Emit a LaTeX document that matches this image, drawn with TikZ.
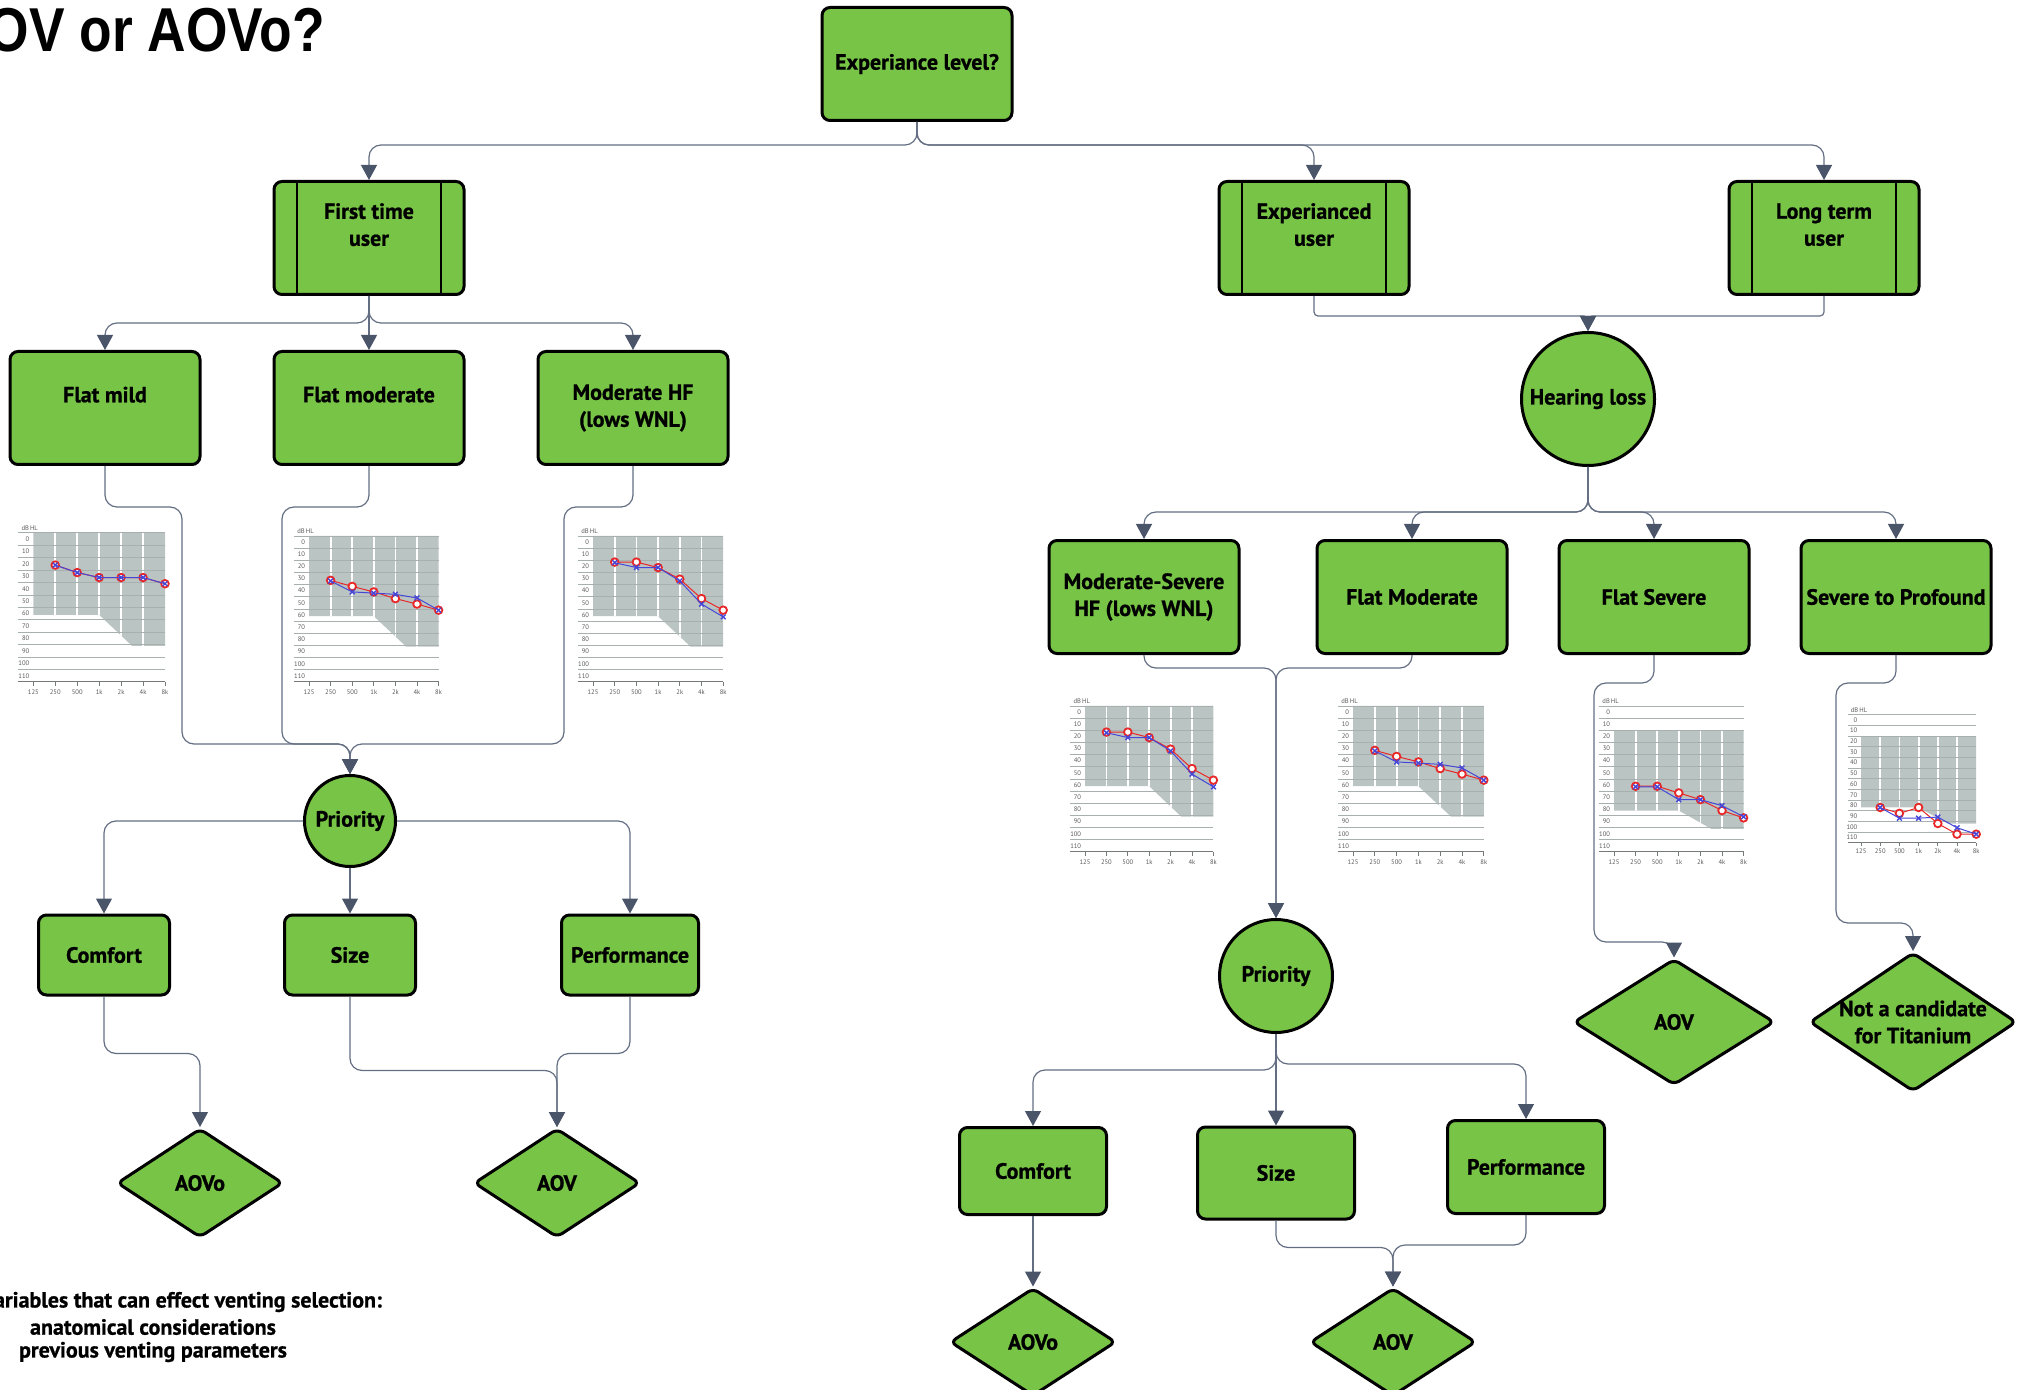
\documentclass[tikz,border=0pt]{standalone}
\usepackage{fontspec}
\setmainfont{PT Sans}[BoldFeatures={FakeBold=0.8}]
\newfontfamily\titlefont{Liberation Sans}[FakeStretch=0.86]
\usetikzlibrary{
    shapes.geometric,
    arrows.meta,
    positioning,
    calc
}
\definecolor{boxgreen}{RGB}{120,196,70}
\definecolor{linkgray}{RGB}{100,110,130}
\definecolor{tipgray}{RGB}{75,85,105}
\definecolor{audshade}{RGB}{186,197,195}
\definecolor{audgrid}{RGB}{168,175,175}
\definecolor{earred}{RGB}{232,40,40}
\definecolor{earblue}{RGB}{70,70,215}
% origin (125 Hz, 0 dB), pt per octave, pt per dB, shading top / low left / low right, right ear, left ear
\newcommand{\audiogram}[9]{%
    \begin{scope}[shift={(#1,#2)}, x=#3pt, y=-#4pt]
        \fill[audshade] (0,#5) -- (6,#5) -- (6,#7) -- (4.5,#7) -- (3,#6) -- (0,#6) -- cycle;
        \begin{scope}
            \clip (0,#5) -- (6,#5) -- (6,#7) -- (4.5,#7) -- (3,#6) -- (0,#6) -- cycle;
            \foreach \fq in {1,...,5} \draw[white, line width=0.9pt] (\fq,#5) -- (\fq,#7);
        \end{scope}
        \foreach \lv in {-5,5,...,105} \draw[audgrid, line width=0.4pt] (-0.7,\lv) -- (6,\lv);
        \draw[audgrid!70!black, line width=0.5pt] (-0.7,115) -- (6,115);
        \foreach \lv in {0,10,...,110} \node[audlabel, anchor=east] at (-0.12,\lv) {\lv};
        \foreach \fq/\fl in {0/125,1/250,2/500,3/1k,4/2k,5/4k,6/8k} {
            \draw[audgrid!70!black, line width=0.4pt] (\fq,115) -- (\fq,118);
            \node[audlabel] at (\fq,123) {\fl};
        }
        \node[audlabel, anchor=south west] at (-0.6,-6) {dB\,HL};
        \draw[earred, line width=0.5pt] plot[mark=*, mark size=1.9pt, mark options={fill=white, draw=earred, line width=0.9pt}] coordinates {#8};
        \draw[earblue, line width=0.5pt] plot[mark=x, mark size=1.7pt, mark options={line width=0.7pt}] coordinates {#9};
    \end{scope}}

\begin{document}
\begin{tikzpicture}[
        x=0.5pt, y=-0.5pt,
        box/.style={draw, line width=1.5pt, rounded corners=4pt, fill=boxgreen, minimum width=95pt, minimum height=56.5pt, inner xsep=1pt, inner ysep=2pt, align=center, font=\bfseries\fontsize{11}{13.5}\selectfont},
        procbox/.style={box, path picture={
            \draw[line width=1.2pt] ([xshift=11.5pt]path picture bounding box.north west) -- ([xshift=11.5pt]path picture bounding box.south west);
            \draw[line width=1.2pt] ([xshift=-11.5pt]path picture bounding box.north east) -- ([xshift=-11.5pt]path picture bounding box.south east);}},
        roundbox/.style={circle, draw, line width=1.5pt, fill=boxgreen, inner sep=1pt, align=center, font=\bfseries\fontsize{11}{13.5}\selectfont},
        decision/.style={diamond, draw, line width=1.5pt, rounded corners=3pt, fill=boxgreen, inner sep=-1.5pt, aspect=1.5, align=center, font=\bfseries\fontsize{11}{13.5}\selectfont},
        conn/.style={-{Triangle[width=8pt,length=7.5pt,color=tipgray]}, draw=linkgray, line width=0.6pt, rounded corners=6pt},
        audlabel/.style={font=\fontsize{3.3}{4}\selectfont, text=black!65, inner sep=0.5pt},
        notetext/.style={inner sep=0pt, font=\bfseries\fontsize{11}{13}\selectfont}
    ]
        \useasboundingbox (0,0) rectangle (2019,1390);

        % Title
        \node[anchor=base east, inner sep=0pt, font=\titlefont\bfseries\fontsize{31}{35}\selectfont] (title) at (325,52) {AOV or AOVo?};

        % Experience level
        \node[box] (exp) at (917,64) {Experiance level?};
        \node[procbox] (first) at (369,238) {First time\\user\\\mbox{}};
        \node[procbox] (expd) at (1314,238) {Experianced\\user\\\mbox{}};
        \node[procbox] (longt) at (1824,238) {Long term\\user\\\mbox{}};

        % First time user: hearing loss
        \node[box] (flatmild) at (105,408) {Flat mild\\\mbox{}};
        \node[box] (flatmod) at (369,408) {Flat moderate\\\mbox{}};
        \node[box] (modhf) at (633,408) {Moderate HF\\(lows WNL)};

        \audiogram{33.3}{539}{10.975}{0.6215}{-5}{61}{86}{(1,21) (2,27) (3,31) (4,31) (5,31) (6,36)}{(1,21) (2,27) (3,31) (4,31) (5,31) (6,36)}
        \audiogram{309}{542}{10.8}{0.6085}{-5}{61}{86}{(1,31.5) (2,36.5) (3,41) (4,46.5) (5,51) (6,56)}{(1,32) (2,41) (3,42) (4,43) (5,46) (6,56)}
        \audiogram{593}{542}{10.85}{0.6085}{-5}{61}{86}{(1,16.5) (2,16.5) (3,21) (4,30.5) (5,46.5) (6,56)}{(1,17) (2,21) (3,21) (4,32) (5,51) (6,61.5)}

        % First time user: priority
        \node[roundbox, minimum size=45.5pt] (prioL) at (350,821) {Priority};
        \node[box, minimum width=65.5pt, minimum height=40pt] (comfL) at (104,955) {Comfort};
        \node[box, minimum width=65.5pt, minimum height=40pt] (sizeL) at (350,955) {Size};
        \node[box, minimum width=68.5pt, minimum height=40pt] (perfL) at (630,955) {Performance};
        \node[decision, minimum width=83pt, minimum height=54.5pt] (aovoL) at (200,1183) {AOVo};
        \node[decision, minimum width=83pt, minimum height=54.5pt] (aovL) at (557,1183) {AOV};

        % Notes
        \node[notetext] (noteA) at (182,1302) {Variables that can effect venting selection:};
        \node[notetext] (noteB) at (153,1327) {anatomical considerations};
        \node[notetext] (noteC) at (153,1352) {previous venting parameters};

        % Experienced / long term user
        \node[roundbox, minimum size=66.5pt] (hear) at (1588,399) {Hearing loss};
        \node[box] (msev) at (1144,597) {Moderate-Severe\\HF (lows WNL)};
        \node[box] (fmod2) at (1412,597) {Flat Moderate};
        \node[box] (fsev) at (1654,597) {Flat Severe};
        \node[box] (sevp) at (1896,597) {Severe to Profound};

        \audiogram{1085}{712}{10.7}{0.6085}{-5}{61}{86}{(1,16.5) (2,16.5) (3,21) (4,30.5) (5,46.5) (6,56)}{(1,17) (2,21) (3,21) (4,32) (5,51) (6,61.5)}
        \audiogram{1353}{712}{10.9}{0.6085}{-5}{61}{86}{(1,31.5) (2,36.5) (3,41) (4,46.5) (5,51) (6,56)}{(1,32) (2,41) (3,42) (4,43) (5,46) (6,56)}
        \audiogram{1614}{712}{10.8}{0.6085}{15}{81}{96}{(1,61) (2,61) (3,66.5) (4,72) (5,81) (6,87)}{(1,61.5) (2,61.5) (3,72) (4,72) (5,77) (6,86)}
        \audiogram{1861}{720}{9.6}{0.5335}{15}{82}{97}{(1,82) (2,87.5) (3,82) (4,97) (5,107) (6,107)}{(1,82) (2,92) (3,92) (4,91) (5,101) (6,107)}

        \node[decision, minimum width=100.5pt, minimum height=63pt] (aovS) at (1674,1022) {AOV};
        \node[decision, minimum width=103.5pt, minimum height=69.5pt] (notcand) at (1913,1022) {Not a candidate\\for Titanium};

        % Experienced user: priority
        \node[roundbox, minimum size=56.5pt] (prioR) at (1276,976) {Priority};
        \node[box, minimum width=73.5pt, minimum height=43.5pt] (comfR) at (1033,1171) {Comfort};
        \node[box, minimum width=78.5pt, minimum height=46pt] (sizeR) at (1276,1173) {Size};
        \node[box, minimum width=78.5pt, minimum height=46.5pt] (perfR) at (1526,1167) {Performance};
        \node[decision, minimum width=83pt, minimum height=54pt] (aovoR) at (1033,1342) {AOVo};
        \node[decision, minimum width=83pt, minimum height=54pt] (aovR) at (1393,1342) {AOV};

        % Arrows
        \draw[conn] (exp.south) -- ++(0,23) -| (first.north);
        \draw[conn] (exp.south) -- ++(0,23) -| (expd.north);
        \draw[conn] (exp.south) -- ++(0,23) -| (longt.north);

        \draw[conn] (first.south) -- ++(0,27) -| (flatmild.north);
        \draw[conn] (first.south) -- (flatmod.north);
        \draw[conn] (first.south) -- ++(0,27) -| (modhf.north);

        \coordinate (mergeL) at (350,744);
        \draw[conn] (flatmild.south) -- ++(0,41) -- ++(77,0) |- (mergeL) -- (prioL.north);
        \draw[conn] (flatmod.south) -- ++(0,41) -- ++(-87,0) |- (mergeL) -- (prioL.north);
        \draw[conn] (modhf.south) -- ++(0,41) -- ++(-69,0) |- (mergeL) -- (prioL.north);

        \draw[conn] (prioL.west) -| (comfL.north);
        \draw[conn] (prioL.south) -- (sizeL.north);
        \draw[conn] (prioL.east) -| (perfL.north);
        \draw[conn] (comfL.south) -- ++(0,57) -| (aovoL.north);
        \draw[conn] (sizeL.south) -- ++(0,74) -| (aovL.north);
        \draw[conn] (perfL.south) -- ++(0,57) -| (aovL.north);

        \draw[conn, rounded corners=2pt] (expd.south) -- ++(0,20) -| (hear.north);
        \draw[conn, rounded corners=2pt] (longt.south) -- ++(0,20) -| (hear.north);

        \draw[conn] (hear.south) -- ++(0,45) -| (msev.north);
        \draw[conn] (hear.south) -- ++(0,45) -| (fmod2.north);
        \draw[conn] (hear.south) -- ++(0,45) -| (fsev.north);
        \draw[conn] (hear.south) -- ++(0,45) -| (sevp.north);

        \draw[conn] (msev.south) -- ++(0,13) -| (prioR.north);
        \draw[conn] (fmod2.south) -- ++(0,13) -| (prioR.north);
        \draw[conn] (fsev.south) -- ++(0,28) -- ++(-60,0) -- ++(0,259) -| (aovS.north);
        \draw[conn] (sevp.south) -- ++(0,28) -- ++(-60,0) -- ++(0,240) -| (notcand.north);

        \draw[conn] (prioR.south) -- ++(0,36) -| (comfR.north);
        \draw[conn] (prioR.south) -- (sizeR.north);
        \draw[conn] (prioR.south) -- ++(0,30) -| (perfR.north);
        \draw[conn] (comfR.south) -- (aovoR.north);
        \draw[conn] (sizeR.south) -- ++(0,27) -| (aovR.north);
        \draw[conn] (perfR.south) -- ++(0,30) -| (aovR.north);
    \end{tikzpicture}
\end{document}
